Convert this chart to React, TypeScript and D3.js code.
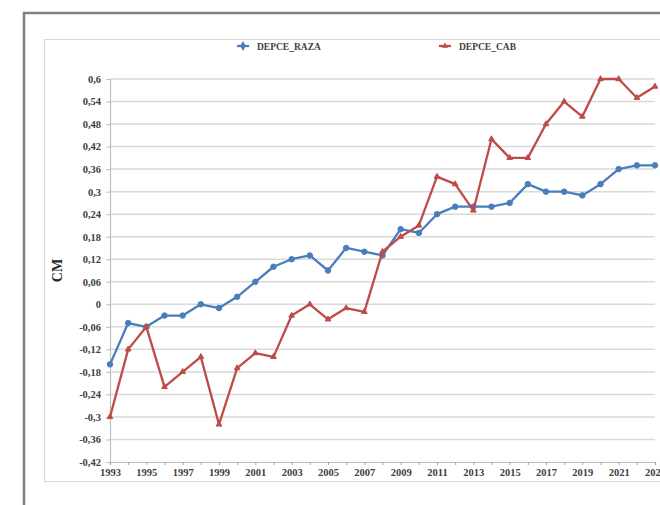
import { useEffect, useRef } from "react";
import * as d3 from "d3";

const years = d3.range(1993, 2024);

const depceRaza = [
  -0.16, -0.05, -0.06, -0.03, -0.03, 0.0, -0.01, 0.02, 0.06, 0.1, 0.12, 0.13, 0.09, 0.15, 0.14, 0.13,
  0.2, 0.19, 0.24, 0.26, 0.26, 0.26, 0.27, 0.32, 0.3, 0.3, 0.29, 0.32, 0.36, 0.37, 0.37,
];

const depceCab = [
  -0.3, -0.12, -0.06, -0.22, -0.18, -0.14, -0.32, -0.17, -0.13, -0.14, -0.03, 0.0, -0.04, -0.01, -0.02, 0.14,
  0.18, 0.21, 0.34, 0.32, 0.25, 0.44, 0.39, 0.39, 0.48, 0.54, 0.5, 0.6, 0.6, 0.55, 0.58,
];

const yTicks = [
  -0.42, -0.36, -0.3, -0.24, -0.18, -0.12, -0.06, 0, 0.06, 0.12, 0.18, 0.24, 0.3, 0.36, 0.42, 0.48, 0.54, 0.6,
];

const xTickLabels = d3.range(1993, 2024, 2);

const series = [
  { name: "DEPCE_RAZA", values: depceRaza, color: "#4a7ebb", symbol: d3.symbolCircle, size: 24 },
  { name: "DEPCE_CAB", values: depceCab, color: "#be4b48", symbol: d3.symbolTriangle, size: 14 },
];

const FONT = "'Liberation Serif', 'DejaVu Serif', serif";

export default function App() {
  const svgRef = useRef<SVGSVGElement | null>(null);

  useEffect(() => {
    const width = 660;
    const height = 505;
    const margin = { top: 79, right: 5, bottom: 43, left: 110 };

    const svg = d3.select(svgRef.current)
      .attr("width", width)
      .attr("height", height)
      .style("background", "#ffffff");

    svg.selectAll("*").remove();

    // outer frame and chart box
    svg.append("rect")
      .attr("x", 24).attr("y", 13).attr("width", 700).attr("height", 600)
      .attr("fill", "none").attr("stroke", "#7f7f7f").attr("stroke-width", 2.5);
    svg.append("rect")
      .attr("x", 44.5).attr("y", 39.5).attr("width", 700).attr("height", 442)
      .attr("fill", "none").attr("stroke", "#d9d9d9").attr("stroke-width", 1);

    const x = d3.scaleLinear()
      .domain([1993, 2023])
      .range([margin.left, width - margin.right]);

    const y = d3.scaleLinear()
      .domain([-0.42, 0.6])
      .range([height - margin.bottom, margin.top]);

    const fmt = (v: number) => String(Math.round(v * 100) / 100).replace(".", ",");

    // gridlines
    svg.append("g")
      .selectAll("line")
      .data(yTicks.slice(1))
      .join("line")
      .attr("x1", x(1993))
      .attr("x2", x(2023))
      .attr("y1", d => y(d))
      .attr("y2", d => y(d))
      .attr("stroke", "#d9d9d9")
      .attr("stroke-width", 1.5);

    // y axis
    const yAxis = svg.append("g")
      .attr("transform", `translate(${x(1993)},0)`)
      .call(d3.axisLeft(y).tickValues(yTicks).tickSize(4).tickFormat(d => fmt(+d)));
    yAxis.select(".domain").attr("stroke", "#bfbfbf").attr("stroke-width", 1.2);
    yAxis.selectAll(".tick line").attr("stroke", "#bfbfbf");
    yAxis.selectAll(".tick text")
      .attr("x", -9)
      .attr("fill", "#404040")
      .style("font-family", FONT)
      .style("font-weight", "bold")
      .style("font-size", "10.5px");

    // x axis
    const xAxis = svg.append("g")
      .attr("transform", `translate(0,${y(-0.42)})`)
      .call(d3.axisBottom(x).tickValues(years).tickSize(3).tickFormat(d => (xTickLabels.includes(+d) ? String(d) : "")));
    xAxis.select(".domain").attr("stroke", "#bfbfbf").attr("stroke-width", 1.2);
    xAxis.selectAll(".tick line").attr("stroke", "#a6a6a6");
    xAxis.selectAll(".tick text")
      .attr("y", 7)
      .attr("fill", "#404040")
      .style("font-family", FONT)
      .style("font-weight", "bold")
      .style("font-size", "10.5px");

    // y axis title
    svg.append("text")
      .attr("transform", `translate(62,${(y(0.6) + y(-0.42)) / 2}) rotate(-90)`)
      .attr("text-anchor", "middle")
      .attr("fill", "#262626")
      .style("font-family", FONT)
      .style("font-weight", "bold")
      .style("font-size", "14px")
      .text("CM");

    // lines and markers
    series.forEach(s => {
      const pts = years.map((yr, i) => ({ yr, v: s.values[i] }));
      const line = d3.line<{ yr: number; v: number }>()
        .x(d => x(d.yr))
        .y(d => y(d.v));

      svg.append("path")
        .datum(pts)
        .attr("fill", "none")
        .attr("stroke", s.color)
        .attr("stroke-width", 2.3)
        .attr("stroke-linejoin", "round")
        .attr("d", line);

      svg.append("g")
        .selectAll("path")
        .data(pts)
        .join("path")
        .attr("transform", d => `translate(${x(d.yr)},${y(d.v)})`)
        .attr("d", d3.symbol().type(s.symbol).size(s.size)())
        .attr("fill", s.color)
        .attr("stroke", s.color)
        .attr("stroke-width", 1);
    });

    // legend
    const legendPos = [243, 445];
    series.forEach((s, i) => {
      const g = svg.append("g").attr("transform", `translate(${legendPos[i]},46)`);
      g.append("line")
        .attr("x1", -6).attr("x2", 6)
        .attr("stroke", s.color).attr("stroke-width", 2.3);
      g.append("path")
        .attr("d", d3.symbol().type(i === 0 ? d3.symbolDiamond : d3.symbolTriangle).size(i === 0 ? 28 : 16)())
        .attr("fill", s.color);
      g.append("text")
        .attr("x", 14)
        .attr("y", 3.5)
        .attr("fill", "#404040")
        .style("font-family", FONT)
        .style("font-weight", "bold")
        .style("font-size", "9.5px")
        .text(s.name);
    });
  }, []);

  return (
    <svg
      ref={svgRef}
      style={{ position: "absolute", left: 0, top: 0, display: "block" }}
    ></svg>
  );
}
